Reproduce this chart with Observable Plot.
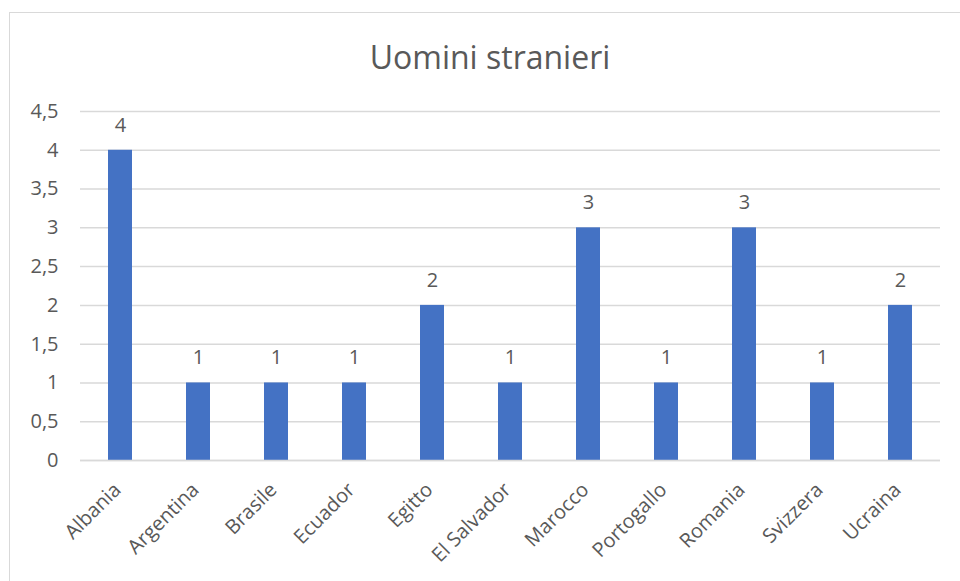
<!DOCTYPE html>
<html>
<head>
<meta charset="utf-8">
<script src="https://cdn.jsdelivr.net/npm/d3@7"></script>
<script src="https://cdn.jsdelivr.net/npm/@observablehq/plot@0.6"></script>
<style>
  html, body { margin: 0; padding: 0; background: #fff; overflow: hidden; }
  #wrap { position: relative; width: 960px; height: 581px; font-family: "Open Sans", sans-serif; }
  #border { position: absolute; left: 9px; top: 12px; width: 980px; height: 600px; border: 1px solid #d9d9d9; box-sizing: border-box; }
  #title { position: absolute; left: 0; width: 980px; top: 37px; text-align: center; font-size: 32px; color: #595959; line-height: 40px; }
  #chart { position: absolute; left: 0; top: 0; }
</style>
</head>
<body>
<div id="wrap">
  <div id="border"></div>
  <div id="chart"></div>
  <div id="title">Uomini stranieri</div>
</div>
<script>
const countries = ["Albania", "Argentina", "Brasile", "Ecuador", "Egitto", "El Salvador", "Marocco", "Portogallo", "Romania", "Svizzera", "Ucraina"];
const values = [4, 1, 1, 1, 2, 1, 3, 1, 3, 1, 2];
const yTicks = [0, 0.5, 1, 1.5, 2, 2.5, 3, 3.5, 4, 4.5];

const data = countries.map((c, i) => ({country: c, value: values[i]}));
const fmt = v => String(v).replace(".", ",");

const plot = Plot.plot({
  width: 960,
  height: 581,
  marginLeft: 80,
  marginRight: 20,
  marginTop: 111,
  marginBottom: 121,
  style: {fontFamily: "Open Sans, sans-serif", fontSize: "20px", color: "#595959", background: "transparent"},
  x: {domain: countries, paddingInner: 0.69, paddingOuter: 0.345},
  y: {domain: [0, 4.5]},
  marks: [
    Plot.gridY(yTicks, {stroke: "#d9d9d9", strokeOpacity: 1, strokeWidth: 1.5}),
    Plot.axisY({ticks: yTicks, tickFormat: fmt, label: null, tickSize: 0, tickPadding: 22, fontSize: 20, fill: "#595959"}),
    Plot.axisX({label: null, tickSize: 0, tickRotate: -45, tickPadding: 8, dy: 18, dx: -3, fontSize: 20, fill: "#595959"}),
    Plot.barY(data, {x: "country", y: "value", fill: "#4472c4"}),
    Plot.text(data, {x: "country", y: "value", text: d => fmt(d.value), dy: -25, fill: "#595959", fontSize: 20}),
    Plot.ruleY([0], {stroke: "#d9d9d9", strokeWidth: 1.5})
  ]
});
document.getElementById("chart").appendChild(plot);
</script>
</body>
</html>
